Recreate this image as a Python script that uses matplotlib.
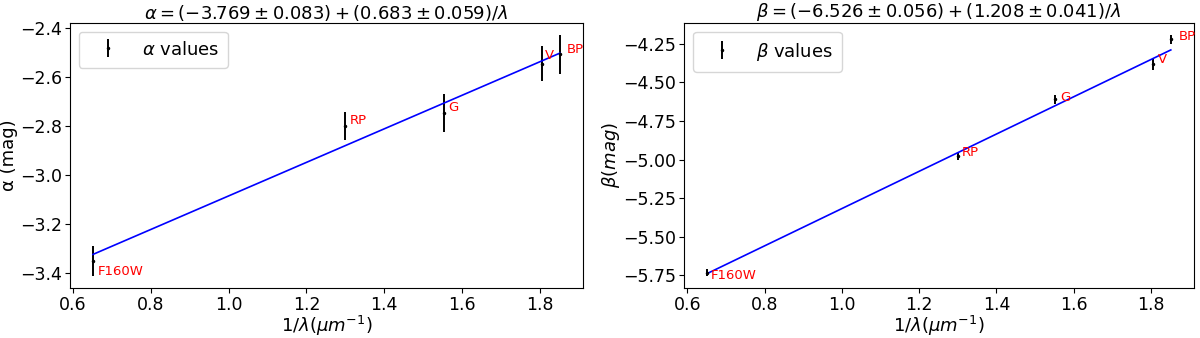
import matplotlib
matplotlib.use("Agg")
import matplotlib.pyplot as plt
import numpy as np

# 1/lambda (um^-1) of each band
bands = ["F160W", "RP", "G", "V", "BP"]
inv_lam = [0.651, 1.300, 1.553, 1.807, 1.852]

alpha = [-3.352, -2.800, -2.747, -2.548, -2.509]
alpha_err = [0.060, 0.058, 0.077, 0.071, 0.080]
alpha_fit = (-3.769, 0.683)

beta = [-5.733, -4.980, -4.610, -4.380, -4.220]
beta_err = [0.022, 0.025, 0.030, 0.037, 0.030]
beta_fit = (-6.526, 1.208)

# label offsets (dx, dy) in data units
alpha_offsets = [(0.013, -0.040), (0.012, 0.020), (0.011, 0.020), (0.006, 0.035), (0.017, 0.020)]
beta_offsets = [(0.010, -0.018), (0.010, 0.024), (0.012, 0.015), (0.012, 0.028), (0.020, 0.020)]


def panel(ax, y, yerr, fit, offsets, leg_label):
    x = np.array(inv_lam)
    ax.errorbar(x, y, yerr=yerr, fmt=".", color="k", ecolor="k", markersize=3,
                elinewidth=1.4, capsize=0, label=leg_label)
    xs = np.sort(x)
    ax.plot(xs, fit[0] + fit[1] * xs, color="blue", lw=1.2)
    for name, xi, yi, (dx, dy) in zip(bands, x, y, offsets):
        ax.text(xi + dx, yi + dy, name, color="red", fontsize=9.5, ha="left", va="center")
    ax.legend(loc="upper left", fontsize=13, borderpad=0.5, handlelength=2.2)
    ax.tick_params(labelsize=12.5, pad=2)
    ax.set_xlabel(r"$1/\lambda (\mu m^{-1})$", fontsize=13, labelpad=0)


fig = plt.figure(figsize=(12, 3.38), dpi=100)
ax1 = fig.add_axes([0.058, 0.148, 0.428, 0.785])
ax2 = fig.add_axes([0.57, 0.148, 0.425, 0.785])

panel(ax1, alpha, alpha_err, alpha_fit, alpha_offsets, r"$\alpha$ values")
ax1.set_ylabel("α (mag)", fontsize=13, labelpad=1)
ax1.set_title(r"$\alpha = (-3.769 \pm 0.083) + (0.683 \pm 0.059)/\lambda$", fontsize=13, pad=2)

panel(ax2, beta, beta_err, beta_fit, beta_offsets, r"$\beta$ values")
ax2.set_ylabel(r"$\beta (mag)$", fontsize=13, labelpad=1)
ax2.set_title(r"$\beta = (-6.526 \pm 0.056) + (1.208 \pm 0.041)/\lambda$", fontsize=13, pad=2)

fig.savefig("out.png", dpi=100)
